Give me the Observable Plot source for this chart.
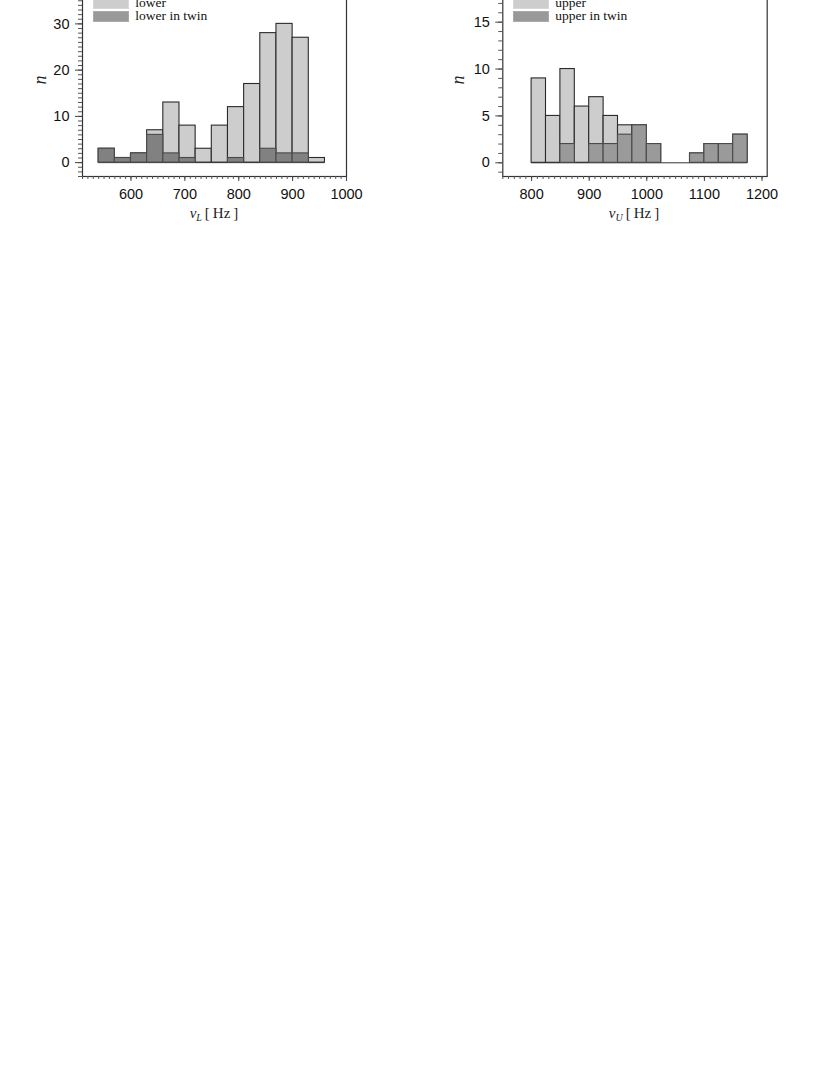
<!DOCTYPE html>
<html>
<head>
<meta charset="utf-8">
<script src="https://cdn.jsdelivr.net/npm/d3@7"></script>
<script src="https://cdn.jsdelivr.net/npm/@observablehq/plot@0.6"></script>
<style>
  body { margin: 0; background: #fff; width: 830px; height: 1075px; overflow: hidden; }
  #wrap { position: relative; width: 830px; height: 1075px; }
  .panel { position: absolute; top: -9px; width: 415px; height: 240px; }
  .sw { position: absolute; width: 36px; height: 11px; box-sizing: border-box; }
  .lg { position: absolute; font-family: "Liberation Serif", "DejaVu Serif", serif; font-size: 13.5px; line-height: 12px; color: #111; white-space: nowrap; }
  .xl { position: absolute; width: 200px; text-align: center; font-family: "Liberation Serif", serif; font-size: 15px; line-height: 16px; color: #222; }
  .xl sub { font-size: 10px; vertical-align: -3px; font-style: italic; }
  .yl { position: absolute; font-family: "Liberation Serif", serif; font-style: italic; font-size: 18px; line-height: 18px; color: #222; transform: rotate(-90deg); transform-origin: center; width: 20px; text-align: center; }
</style>
</head>
<body>
<div id="wrap"></div>
<script>
// ---- data ----
// lower-frequency histogram (bin width 30 Hz)
const lowerBinStart = [540, 570, 600, 630, 660, 690, 720, 750, 780, 810, 840, 870, 900, 930];
const lowerCounts   = [3, 1, 2, 7, 13, 8, 3, 8, 12, 17, 28, 30, 27, 1];
const lowerTwin     = [3, 1, 2, 6, 2, 1, 0, 0, 1, 0, 3, 2, 2, 0];
const lowerBinWidth = 30;
// upper-frequency histogram (bin width 25 Hz)
const upperBinStart = [800, 825, 850, 875, 900, 925, 950, 975, 1000, 1025, 1050, 1075, 1100, 1125, 1150];
const upperCounts   = [9, 5, 10, 6, 7, 5, 4, 4, 2, 0, 0, 1, 2, 2, 3];
const upperTwin     = [0, 0, 2, 0, 2, 2, 3, 4, 2, 0, 0, 1, 2, 2, 3];
const upperBinWidth = 25;
// axes
const lowerXTicks = [600, 700, 800, 900, 1000];
const lowerYTicks = [0, 10, 20, 30];
const upperXTicks = [800, 900, 1000, 1100, 1200];
const upperYTicks = [0, 5, 10, 15];

const tickFont = "'Liberation Sans', Arial, sans-serif";
const fmt = d3.format("d");

function rows(starts, counts, twin, w) {
  return starts.map((s, i) => ({x1: s, x2: s + w, total: counts[i], twin: twin[i]}));
}
function rangeStep(a, b, s) { const r = []; for (let v = a; v <= b + 1e-9; v += s) r.push(+v.toFixed(6)); return r; }

function makePanel(opts) {
  const data = rows(opts.starts, opts.counts, opts.twin, opts.w);
  const first = data[0].x1, last = data[data.length - 1].x2;
  return Plot.plot({
    width: 415, height: 240,
    marginLeft: opts.ml, marginRight: opts.mr, marginTop: 0, marginBottom: 55,
    style: {fontFamily: tickFont, fontSize: "14.5px", color: "#111", background: "transparent", overflow: "visible"},
    x: {domain: opts.xdom},
    y: {domain: opts.ydom},
    marks: [
      Plot.ruleY([0], {x1: first, x2: last, stroke: "#333", strokeWidth: 1}),
      Plot.rect(data, {x1: "x1", x2: "x2", y1: 0, y2: "total", fill: "#cdcdcd", stroke: "#2a2a2a", strokeWidth: 1.1}),
      Plot.rect(data.filter(d => d.twin > 0), {x1: "x1", x2: "x2", y1: 0, y2: "twin", fill: opts.twinFill, stroke: "#4a4a4a", strokeWidth: 1.1}),
      Plot.frame({stroke: "#333", strokeWidth: 1.2}),
      Plot.axisX(opts.xminor, {tickSize: 3, tickFormat: () => "", stroke: "#555", label: null}),
      Plot.axisX(opts.xticks, {tickSize: 5, tickPadding: 7, stroke: "#444", label: null, tickFormat: fmt, fontSize: 14.5}),
      Plot.axisY(opts.yminor, {tickSize: 4, tickFormat: () => "", stroke: "#555", label: null}),
      Plot.axisY(opts.yticks, {tickSize: 7, tickPadding: 6, stroke: "#444", label: null, tickFormat: fmt, fontSize: 14.5})
    ]
  });
}

const wrap = document.getElementById("wrap");

const left = document.createElement("div");
left.className = "panel"; left.style.left = "0px";
left.appendChild(makePanel({
  starts: lowerBinStart, counts: lowerCounts, twin: lowerTwin, w: lowerBinWidth,
  ml: 82, mr: 69, xdom: [510, 1000], ydom: [-3, 37],
  xticks: lowerXTicks, yticks: lowerYTicks,
  xminor: rangeStep(510, 1000, 10), yminor: rangeStep(-3, 36, 1),
  twinFill: "#818181"
}));
wrap.appendChild(left);

const right = document.createElement("div");
right.className = "panel"; right.style.left = "415px";
right.appendChild(makePanel({
  starts: upperBinStart, counts: upperCounts, twin: upperTwin, w: upperBinWidth,
  ml: 87.3, mr: 63.3, xdom: [750, 1209], ydom: [-1.46, 18.27],
  xticks: upperXTicks, yticks: upperYTicks,
  xminor: rangeStep(750, 1200, 10), yminor: rangeStep(-1, 18, 1),
  twinFill: "#9a9a9a"
}));
wrap.appendChild(right);

// legends, axis labels (HTML overlays)
function add(html) { wrap.insertAdjacentHTML("beforeend", html); }
function legend(x0, names) {
  add(`<div class="sw" style="left:${x0}px;top:-2px;background:#cdcdcd;border:1px solid #d8d8d8"></div>`);
  add(`<div class="sw" style="left:${x0}px;top:11px;background:#999;border:1px solid #aaa"></div>`);
  add(`<div class="lg" style="left:${x0 + 42}px;top:-3.1px">${names[0]}</div>`);
  add(`<div class="lg" style="left:${x0 + 42}px;top:9.7px">${names[1]}</div>`);
}
legend(93.3, ["lower", "lower in twin"]);
legend(513.3, ["upper", "upper in twin"]);

add(`<div class="xl" style="left:${214 - 100}px;top:205px"><i>ν</i><sub>L</sub>&thinsp;[&thinsp;Hz&thinsp;]</div>`);
add(`<div class="xl" style="left:${634 - 100}px;top:205px"><i>ν</i><sub>U</sub>&thinsp;[&thinsp;Hz&thinsp;]</div>`);
add(`<div class="yl" style="left:30px;top:71px">n</div>`);
add(`<div class="yl" style="left:448px;top:71px">n</div>`);
</script>
</body>
</html>
